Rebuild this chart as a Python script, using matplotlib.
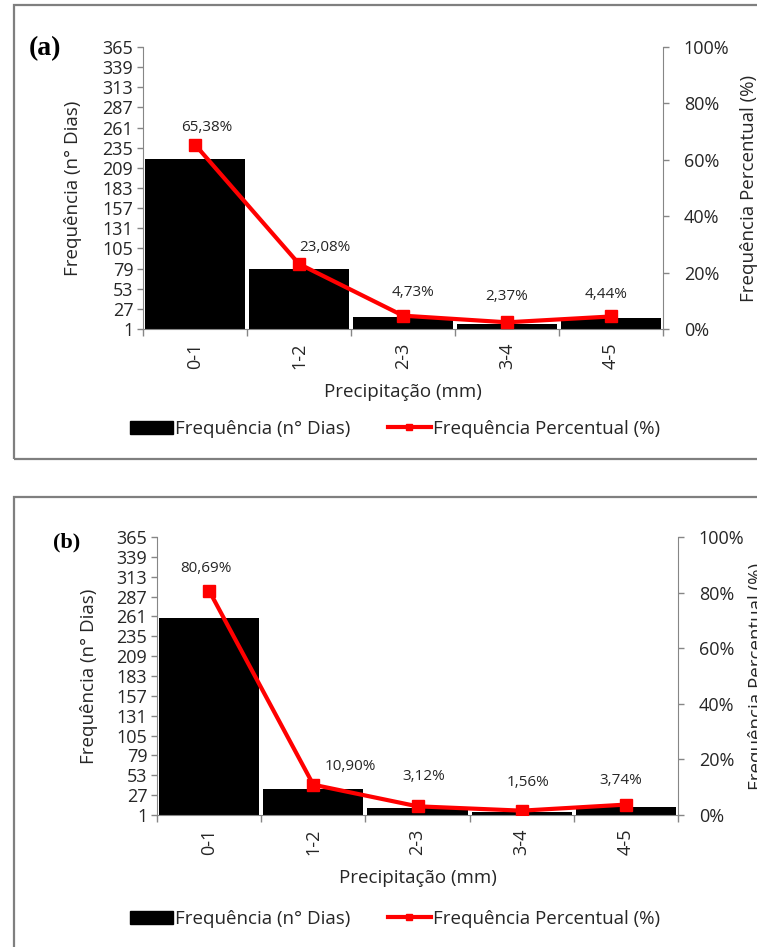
import matplotlib
matplotlib.use("Agg")
import matplotlib.pyplot as plt
import numpy as np
from matplotlib.patches import Rectangle, Patch
from matplotlib.lines import Line2D
from matplotlib.ticker import FuncFormatter

# data
categories = ["0-1", "1-2", "2-3", "3-4", "4-5"]
dias_a = [221, 78, 16, 8, 15]
pct_a = [65.38, 23.08, 4.73, 2.37, 4.44]
dias_b = [259, 35, 10, 5, 12]
pct_b = [80.69, 10.90, 3.12, 1.56, 3.74]
left_ticks = list(range(1, 366, 26))

W, H = 757, 947
GRAY = "#868686"
TXT = "#262626"
FONT = "Open Sans"

plt.rcParams["font.family"] = [FONT, "DejaVu Sans"]


def px_rect(l, t, r, b):
    return [l / W, 1 - b / H, (r - l) / W, (b - t) / H]


def fx(x):
    return x / W


def fy(y):
    return 1 - y / H


def draw_panel(fig, box, rect, counts, pcts, label_offsets, tag, tag_xy, tag_size,
               ylab_x, rylab_x, xlab_y, leg_y):
    l, t, r, b = rect
    # outer frame
    fig.patches.append(Rectangle((fx(box[0]), fy(box[3])), fx(box[2] - box[0]),
                                 (box[3] - box[1]) / H, transform=fig.transFigure,
                                 fill=False, edgecolor="#7f7f7f", lw=1.6))
    ax = fig.add_axes(px_rect(l, t, r, b))
    x = np.arange(len(categories))
    ax.bar(x, counts, width=0.96, color="black", zorder=2)
    ax.set_xlim(-0.5, len(categories) - 0.5)
    ax.set_ylim(1, 365)
    ax.set_yticks(left_ticks)
    ax.set_xticks(x)
    ax.set_xticklabels(categories, rotation=90)
    ax.set_xticks(np.arange(-0.5, len(categories)), minor=True)
    ax.tick_params(axis="x", which="major", length=0, pad=10, labelsize=13, labelcolor=TXT)
    ax.tick_params(axis="x", which="minor", length=5, color=GRAY, width=1)
    ax.tick_params(axis="y", length=4, color=GRAY, width=1, pad=3, labelsize=13,
                   labelcolor=TXT)
    for s in ["top", "right"]:
        ax.spines[s].set_visible(False)
    for s in ["left", "bottom"]:
        ax.spines[s].set_color(GRAY)

    ax2 = ax.twinx()
    ax2.plot(x, np.array(pcts) / 100, color="#ff0000", lw=3, marker="s", ms=8, zorder=3)
    ax2.set_ylim(0, 1)
    ax2.set_yticks(np.arange(0, 1.01, 0.2))
    ax2.yaxis.set_major_formatter(FuncFormatter(lambda v, p: f"{v * 100:.0f}%"))
    ax2.tick_params(axis="y", length=4, color=GRAY, width=1, pad=11, labelsize=13,
                    labelcolor=TXT)
    for s in ["top", "left", "bottom"]:
        ax2.spines[s].set_visible(False)
    ax2.spines["right"].set_color(GRAY)

    for xi, p, (dx, dy) in zip(x, pcts, label_offsets):
        ax2.annotate(f"{p:.2f}%".replace(".", ","), (xi, p / 100), xytext=(dx, dy),
                     textcoords="offset pixels", ha="center", va="center",
                     fontsize=11, color=TXT)

    fig.text(fx(ylab_x), fy((t + b) / 2), "Frequência (n° Dias)", rotation=90,
             ha="center", va="center", fontsize=13.5, color=TXT)
    fig.text(fx(rylab_x), fy((t + b) / 2), "Frequência Percentual (%)", rotation=90,
             ha="center", va="center", fontsize=13.5, color=TXT)
    fig.text(fx((l + r) / 2), fy(xlab_y), "Precipitação (mm)", ha="center", va="center",
             fontsize=13.5, color=TXT)
    fig.text(fx(tag_xy[0]), fy(tag_xy[1]), tag, ha="center", va="center",
             fontsize=tag_size, fontweight="bold", family="Liberation Serif", color="black")

    handles = [Patch(color="black"),
               Line2D([], [], color="#ff0000", lw=3, marker="s", ms=5)]
    fig.legend(handles, ["Frequência (n° Dias)", "Frequência Percentual (%)"],
               loc="center", bbox_to_anchor=(fx(395), fy(leg_y)), ncol=2, frameon=False,
               fontsize=13.5, handlelength=2.3, handleheight=0.7, handletextpad=0.1,
               columnspacing=2.0, labelcolor=TXT)
    return ax


fig = plt.figure(figsize=(W / 100, H / 100), dpi=100)

draw_panel(fig, (14, 5, 765, 459), (143, 47, 663, 329), dias_a, pct_a,
           [(12, 17), (26, 16), (10, 23), (0, 26), (-5, 22)],
           "(a)", (45, 49), 20, 73, 749, 392, 429)
draw_panel(fig, (14, 497, 765, 955), (157, 537, 678, 815), dias_b, pct_b,
           [(-3, 22), (37, 18), (6, 30), (6, 28), (-5, 24)],
           "(b)", (67, 542), 16, 89, 757, 878, 919)

fig.savefig("out.png", dpi=100)
